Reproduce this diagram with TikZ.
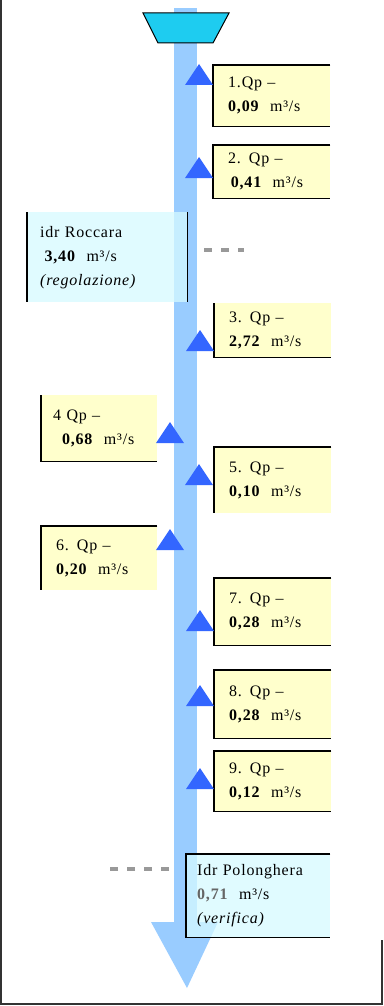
\documentclass[tikz,border=0pt]{standalone}
\usepackage{fontspec}
\setmainfont{Liberation Serif}[LetterSpace=5]
\usetikzlibrary{calc}
\definecolor{shaftblue}{HTML}{99CCFF}
\definecolor{funnelcyan}{HTML}{1ECCF0}
\definecolor{triblue}{HTML}{3366FF}
\definecolor{boxyellow}{HTML}{FFFFCC}
\definecolor{boxcyan}{HTML}{D6FAFF}
\definecolor{dashgray}{HTML}{999999}
\definecolor{framegray}{HTML}{333333}
\newcommand\mybfont{\fontsize{16}{24}\selectfont}
\begin{document}
\begin{tikzpicture}[x=1pt,y=-1pt,
  boxfont/.style={font=\mybfont},
  ybox/.style={anchor=north west, fill=boxyellow, inner xsep=15pt, inner ysep=0pt,
    text width=87pt, align=left, boxfont},
  cbox/.style={anchor=north west, fill=boxcyan, inner ysep=0pt, align=left, boxfont},
  edge/.style={draw=black, line width=1.3pt},
  dashline/.style={draw=dashgray, line width=3.5pt, dash pattern=on 8pt off 9pt},
  tri/.pic={\fill[triblue] (-14,0) -- (14,0) -- (0,-21) -- cycle;}
]
\useasboundingbox (0,0) rectangle (383,1006);
\fill[white] (0,0) rectangle (383,1006);
% frame
\draw[framegray, line width=2pt] (1,0) -- (1,1004) -- (382,1004) -- (382,940);

% dashed leaders (behind shaft)
\coordinate (rdash) at (244,250);
\coordinate (pdash) at (110,869);
\coordinate (rmid) at (187,250);
\coordinate (pmid) at (186,869);
\draw[dashline] (rmid) -- (rdash);
\draw[dashline] (pmid) -- (pdash);

% shaft and arrow head
\fill[shaftblue] (174,8) rectangle (197,922);
\fill[shaftblue] (151,922) -- (218,922) -- (187,988) -- cycle;

% funnel
\draw[fill=funnelcyan, line width=1pt] (143,13) -- (229,13) -- (213,43) -- (158,43) -- cycle;

% boxes
\node[ybox, minimum height=61pt] (b1) at (213,65) {1.Qp –\\\textbf{0,09}~ m³/s};
\draw[edge] (b1.north east) -- (b1.north west) -- (b1.south west) -- (b1.south east);

\node[ybox, minimum height=53pt] (b2) at (213,145) {2. Qp –\\\,\textbf{0,41}~ m³/s};
\draw[edge] (b2.north east) -- (b2.north west) -- (b2.south west) -- (b2.south east);

\node[cbox, fill opacity=0.75, text opacity=1, inner xsep=13pt, text width=134pt, minimum height=90pt] (roc) at (27,212)
  {idr Roccara\\\;\textbf{3,40}~ m³/s\\\textit{(regolazione)}};
\draw[edge] (roc.north west) -- (roc.south west);
\draw[edge] (roc.north east) -- (roc.south east);

\node[ybox, minimum height=54pt] (b3) at (214,303) {3. Qp –\\\textbf{2,72}~ m³/s};
\draw[edge] (b3.north west) -- (b3.south west) -- (b3.south east);

\node[ybox, inner xsep=12pt, text width=92pt, minimum height=66pt] (b4) at (41,395) {4 Qp –\\\;\;\textbf{0,68}~ m³/s};
\draw[edge] (b4.north west) -- (b4.south west) -- (b4.south east);

\node[ybox, minimum height=66pt] (b5) at (214,447) {5. Qp –\\\textbf{0,10}~ m³/s};
\draw[edge] (b5.north east) -- (b5.north west) -- (b5.south west);

\node[ybox, text width=86pt, minimum height=64pt] (b6) at (41,526) {6. Qp –\\\textbf{0,20}~ m³/s};
\draw[edge] (b6.north east) -- (b6.north west) -- (b6.south west);

\node[ybox, minimum height=67pt] (b7) at (214,578) {7. Qp –\\\textbf{0,28}~ m³/s};
\draw[edge] (b7.north east) -- (b7.north west) -- (b7.south west) -- (b7.south east);

\node[ybox, minimum height=68pt] (b8) at (214,670) {8. Qp –\\\textbf{0,28}~ m³/s};
\draw[edge] (b8.north east) -- (b8.north west) -- (b8.south west) -- (b8.south east);

\node[ybox, minimum height=60pt] (b9) at (214,751) {9. Qp –\\\textbf{0,12}~ m³/s};
\draw[edge] (b9.north east) -- (b9.north west) -- (b9.south west) -- (b9.south east);

\node[cbox, fill opacity=0.75, text opacity=1, inner xsep=11pt, text width=122pt, minimum height=83pt] (pol) at (186,854)
  {Idr Polonghera\\\textcolor{black!60}{\textbf{0,71}}~ m³/s\\\textit{(verifica)}};
\draw[edge] (pol.north east) -- (pol.north west) -- (pol.south west) -- (pol.south east);

% triangles
\pic at (199,85) {tri};
\pic at (199,178) {tri};
\pic at (200,351) {tri};
\pic at (170,443) {tri};
\pic at (199,485) {tri};
\pic at (170,550) {tri};
\pic at (200,631) {tri};
\pic at (200,706) {tri};
\pic at (200,789) {tri};
\end{tikzpicture}
\end{document}
